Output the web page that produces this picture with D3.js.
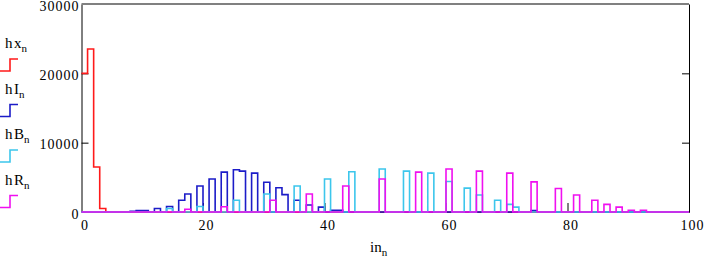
<!DOCTYPE html>
<html><head><meta charset="UTF-8"><style>
body { margin: 0; background: #fff; }
text { font-family: "Liberation Serif", "Times New Roman", serif; fill: #000; }
.axis .domain, .axis line { stroke: #000; }
</style>
</head>
<body>
<svg width="706" height="262"></svg>
<script src="https://cdn.jsdelivr.net/npm/d3@7"></script>
<script>

// nonzero bins [n, count]; every other n of 0..100 is 0
var hx = [[0, 20000], [1, 23500], [2, 6500], [3, 500]];
var hI = [[8, 100], [9, 200], [10, 200], [12, 500], [14, 800], [16, 1700], [17, 2600],
          [19, 3750], [21, 4750], [23, 5750], [25, 6100], [26, 5900], [28, 5600],
          [30, 4300], [32, 3500], [33, 2500], [35, 1700], [37, 1000], [39, 700],
          [41, 250], [42, 250], [74, 200]];
var hB = [[14, 500], [19, 800], [25, 1700], [30, 2600], [35, 3750], [40, 4750],
          [44, 5800], [49, 6200], [53, 5900], [57, 5600], [60, 4400], [63, 3450],
          [65, 2450], [68, 1700], [70, 1100], [71, 700]];
var hR = [[17, 400], [23, 750], [31, 1700], [37, 2600], [43, 3750], [49, 4750],
          [55, 5750], [60, 6200], [65, 5900], [70, 5600], [74, 4350], [78, 3400],
          [81, 2450], [84, 1700], [86, 1100], [88, 700], [90, 250], [92, 250]];

var seriesNames = ["hx", "hI", "hB", "hR"];
var seriesColors = ["#ff1a1a", "#1c1cc8", "#3cc6ec", "#f010f0"];
var xTicks = [0, 20, 40, 60, 80, 100];
var yTicks = [0, 10000, 20000, 30000];

var svg = d3.select("svg");
var serif = "'Liberation Serif', 'Times New Roman', serif";

var x = d3.scaleLinear().domain([0, 100]).range([81.5, 689]);
var y = d3.scaleLinear().domain([0, 30000]).range([212, 4]);

// left axis with labels, ticks pointing inward
var gl = svg.append("g").attr("class", "axis")
    .attr("transform", "translate(" + x(0) + ",0)")
    .call(d3.axisLeft(y).tickValues(yTicks).tickSize(-7).tickSizeOuter(0)
        .tickPadding(2).tickFormat(d3.format("d")))
    .attr("font-family", serif).attr("font-size", 14);
gl.selectAll(".tick line").filter(function(d) { return d == 0 || d == 30000; }).remove();
gl.selectAll(".tick text").attr("dy", "0.45em").attr("letter-spacing", 1);

// right axis, ticks only
svg.append("g").attr("class", "axis")
    .attr("transform", "translate(" + x(100) + ",0)")
    .call(d3.axisRight(y).tickValues([10000, 20000]).tickSize(-7).tickSizeOuter(0).tickFormat(""));

// bottom axis
var gb = svg.append("g").attr("class", "axis")
    .attr("transform", "translate(0," + y(0) + ")")
    .call(d3.axisBottom(x).tickValues(xTicks).tickSize(-9).tickSizeOuter(0).tickPadding(8))
    .attr("font-family", serif).attr("font-size", 14);
gb.selectAll(".tick line").filter(function(d) { return d == 0 || d == 100; }).remove();
gb.selectAll(".tick text").attr("dx", 3).attr("letter-spacing", 1);

// grey top frame
svg.append("line")
    .attr("x1", x(0)).attr("x2", x(100))
    .attr("y1", y(30000)).attr("y2", y(30000))
    .attr("stroke", "#808080").attr("stroke-width", 2);

function fullSeries(bins) {
    var m = new Map(bins);
    return d3.range(0, 101).map(function(n) { return [n, m.has(n) ? m.get(n) : 0]; });
}

var line = d3.line()
    .x(function(d) { return x(d[0]); })
    .y(function(d) { return y(d[1]); })
    .curve(d3.curveStepAfter);

[hx, hI, hB, hR].forEach(function(bins, i) {
    svg.append("path")
        .attr("d", line(fullSeries(bins)))
        .attr("fill", "none")
        .attr("stroke", seriesColors[i])
        .attr("stroke-width", 1.6);
});

// legend on the left
seriesNames.forEach(function(name, i) {
    var base = 48 + i * 45.5;
    var t = svg.append("text").attr("x", 5).attr("y", base).attr("font-size", 15);
    t.append("tspan").text(name.charAt(0)).attr("letter-spacing", 1.5);
    t.append("tspan").text(name.slice(1));
    t.append("tspan").attr("font-size", 11).attr("dy", 4).text("n");
    svg.append("path")
        .attr("d", "M0," + (base + 23) + "H10V" + (base + 11) + "H18")
        .attr("fill", "none")
        .attr("stroke", seriesColors[i])
        .attr("stroke-width", 1.6);
});

// x axis title
var xt = svg.append("text").attr("x", 370).attr("y", 252).attr("font-size", 15);
xt.append("tspan").text("in");
xt.append("tspan").attr("font-size", 11).attr("dy", 4).text("n");

</script>
</body></html>
